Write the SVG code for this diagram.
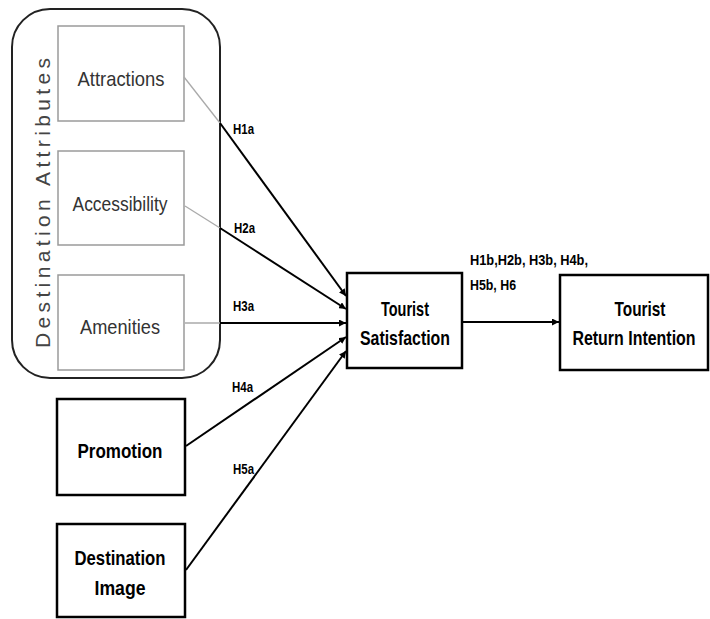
<svg xmlns="http://www.w3.org/2000/svg" width="710" height="619" viewBox="0 0 710 619">
<defs>
<marker id="arr" viewBox="0 0 10 10" refX="10" refY="5" markerWidth="7" markerHeight="7" markerUnits="userSpaceOnUse" orient="auto">
<path d="M0,0 L10,5 L0,10 z" fill="#000"/>
</marker>
<style>
.grp{fill:#fff;stroke:#222;stroke-width:2}
.sub{fill:#fff;stroke:#9a9a9a;stroke-width:1.5}
.box{fill:#fff;stroke:#000;stroke-width:2.5}
.subt{font-family:"Liberation Sans",Arial,sans-serif;font-size:21px;fill:#333;text-anchor:middle}
.bt{font-family:"Liberation Sans",Arial,sans-serif;font-size:21px;font-weight:bold;fill:#000;text-anchor:middle}
.lab{font-family:"Liberation Sans",Arial,sans-serif;font-size:14px;font-weight:bold;fill:#000}
.g{stroke:#aaa;stroke-width:1.3;fill:none}
.k{stroke:#000;stroke-width:2;fill:none}
</style>
</defs>
<rect width="710" height="619" fill="#fff"/>
<g id="destination-attributes">
<rect class="grp" x="12" y="9" width="208" height="369" rx="38" ry="38"/>
<text x="42" y="203" transform="rotate(-90 42 203)" font-family="'Liberation Sans',Arial,sans-serif" font-size="21" fill="#444" text-anchor="middle" dominant-baseline="central" textLength="290" lengthAdjust="spacing">Destination Attributes</text>
</g>
<g id="attractions">
<rect class="sub" x="58" y="26" width="126" height="95"/>
<text class="subt" x="121" y="86" textLength="87" lengthAdjust="spacingAndGlyphs">Attractions</text>
</g>
<g id="accessibility">
<rect class="sub" x="58" y="151" width="126" height="94"/>
<text class="subt" x="120" y="211" textLength="95" lengthAdjust="spacingAndGlyphs">Accessibility</text>
</g>
<g id="amenities">
<rect class="sub" x="58" y="275" width="126" height="95"/>
<text class="subt" x="120" y="334" textLength="80" lengthAdjust="spacingAndGlyphs">Amenities</text>
</g>
<g id="promotion">
<rect class="box" x="57" y="399" width="128" height="96"/>
<text class="bt" x="120" y="458" textLength="85" lengthAdjust="spacingAndGlyphs">Promotion</text>
</g>
<g id="destination-image">
<rect class="box" x="57" y="524" width="128" height="93"/>
<text class="bt" x="120" y="565" textLength="91" lengthAdjust="spacingAndGlyphs">Destination</text>
<text class="bt" x="120" y="595" textLength="51" lengthAdjust="spacingAndGlyphs">Image</text>
</g>
<g id="tourist-satisfaction">
<rect class="box" x="347" y="273" width="115" height="95"/>
<text class="bt" x="405" y="316" textLength="48" lengthAdjust="spacingAndGlyphs">Tourist</text>
<text class="bt" x="405" y="345" textLength="90" lengthAdjust="spacingAndGlyphs">Satisfaction</text>
</g>
<g id="tourist-return-intention">
<rect class="box" x="560" y="275" width="148" height="95"/>
<text class="bt" x="640" y="316" textLength="51" lengthAdjust="spacingAndGlyphs">Tourist</text>
<text class="bt" transform="translate(634 345) scale(0.76 1)" x="0" y="0">Return Intention</text>
</g>
<g id="connectors">
<line class="g" x1="184" y1="77" x2="220" y2="123"/>
<line class="k" x1="220" y1="123" x2="346" y2="296" marker-end="url(#arr)"/>
<line class="g" x1="185" y1="206" x2="220" y2="228"/>
<line class="k" x1="220" y1="228" x2="346" y2="309" marker-end="url(#arr)"/>
<line class="g" x1="185" y1="323" x2="220" y2="323"/>
<line class="k" x1="220" y1="323" x2="346" y2="323" marker-end="url(#arr)"/>
<line class="k" x1="186" y1="446" x2="346" y2="337" marker-end="url(#arr)"/>
<line class="k" x1="186" y1="570" x2="346" y2="351" marker-end="url(#arr)"/>
<line class="k" x1="462" y1="322" x2="559" y2="322" marker-end="url(#arr)"/>
<text class="lab" x="233" y="134" textLength="21" lengthAdjust="spacingAndGlyphs">H1a</text>
<text class="lab" x="234" y="233" textLength="21" lengthAdjust="spacingAndGlyphs">H2a</text>
<text class="lab" x="233" y="311" textLength="21" lengthAdjust="spacingAndGlyphs">H3a</text>
<text class="lab" x="232" y="392" textLength="21" lengthAdjust="spacingAndGlyphs">H4a</text>
<text class="lab" x="233" y="474" textLength="21" lengthAdjust="spacingAndGlyphs">H5a</text>
<text class="lab" x="470" y="265" textLength="118" lengthAdjust="spacingAndGlyphs">H1b,H2b, H3b, H4b,</text>
<text class="lab" x="470" y="290" textLength="46" lengthAdjust="spacingAndGlyphs">H5b, H6</text>
</g>
</svg>
